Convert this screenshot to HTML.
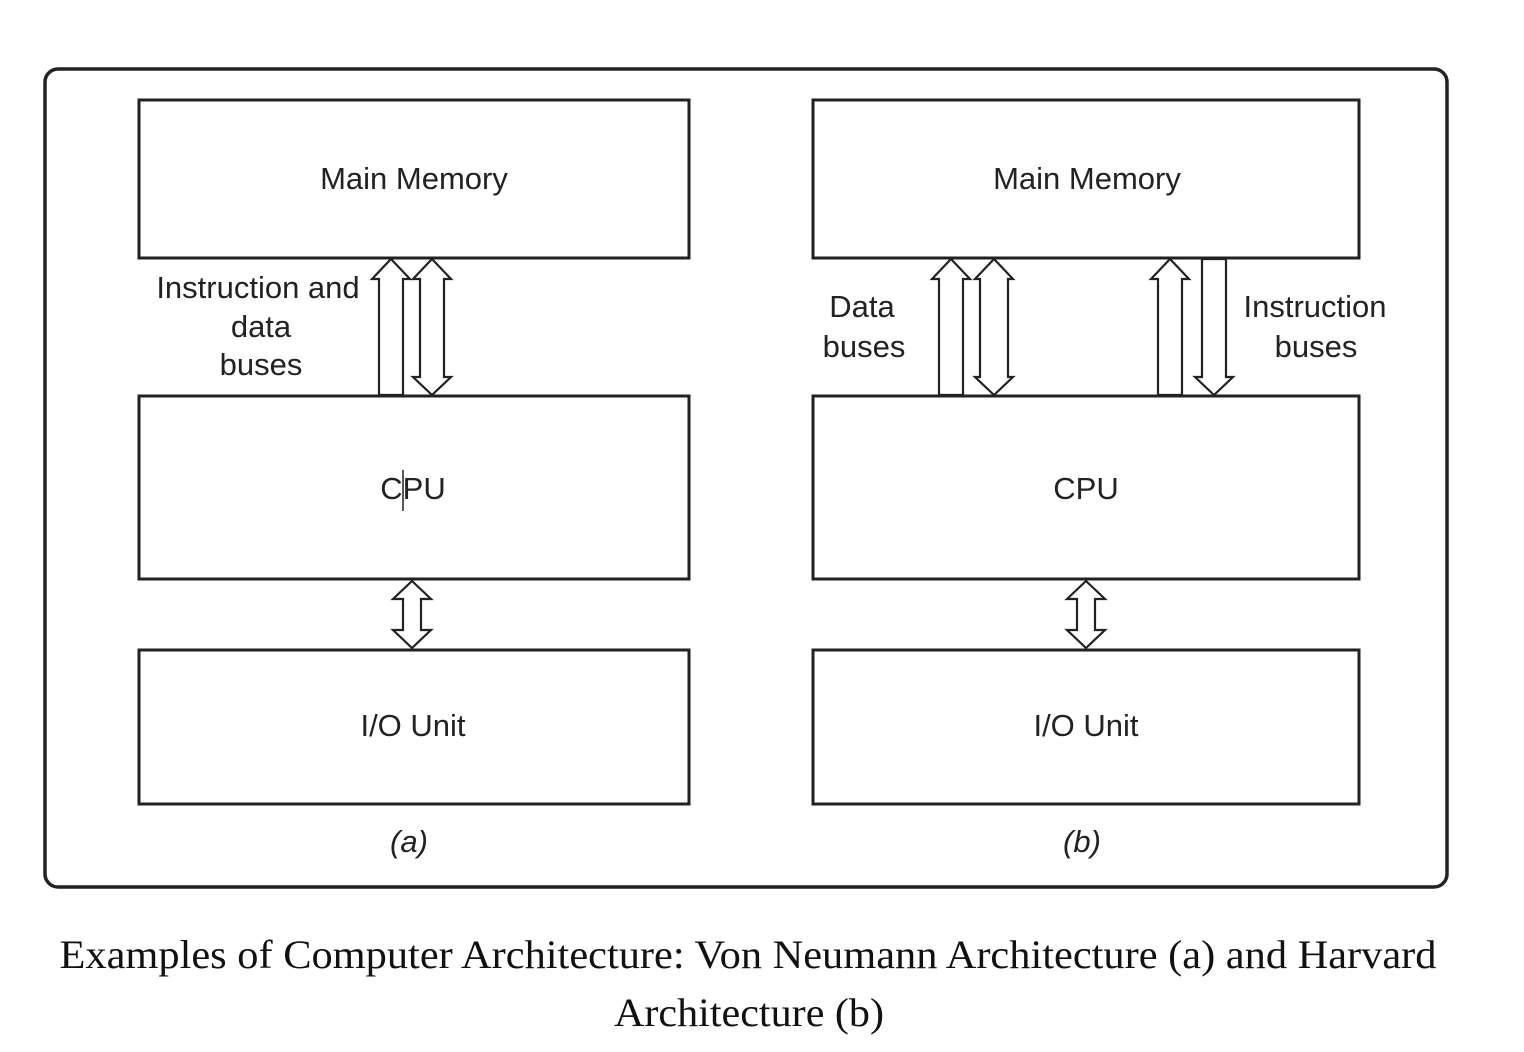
<!DOCTYPE html>
<html><head><meta charset="utf-8"><style>
html,body{margin:0;padding:0;background:#fff;}
svg{display:block;}
.t{font-family:"Liberation Sans",sans-serif;font-size:31px;fill:#222;text-anchor:middle;}
.c{font-family:"Liberation Serif",serif;font-size:40px;fill:#111;text-anchor:middle;}
</style></head><body>
<svg width="1524" height="1052" viewBox="0 0 1524 1052" xmlns="http://www.w3.org/2000/svg">
<rect x="45" y="69" width="1402" height="818" rx="13" fill="none" stroke="#222" stroke-width="3.5"/>
<g fill="#fff" stroke="#222" stroke-width="3">
<rect x="139" y="100" width="550" height="158"/>
<rect x="139" y="396" width="550" height="183"/>
<rect x="139" y="650" width="550" height="154"/>
<rect x="813" y="100" width="546" height="158"/>
<rect x="813" y="396" width="546" height="183"/>
<rect x="813" y="650" width="546" height="154"/>
</g>
<g fill="#fff" stroke="#222" stroke-width="2.2" stroke-linejoin="miter">
<polygon points="391,259 410,279 403,279 403,395 379,395 379,279 372,279"/>
<polygon points="432,259 451,279 444,279 444,377 451,377 432,395 413,377 420,377 420,279 413,279"/>
<polygon points="951,259 970,279 963,279 963,395 939,395 939,279 932,279"/>
<polygon points="994,259 1013,279 1008,279 1008,377 1013,377 994,395 975,377 980,377 980,279 975,279"/>
<polygon points="1170,259 1189,279 1182,279 1182,395 1158,395 1158,279 1151,279"/>
<polygon points="1202,259 1226,259 1226,377 1233,377 1214,395 1195,377 1202,377"/>
<polygon points="412,581 431,599 421,599 421,630 431,630 412,648 393,630 403,630 403,599 393,599"/>
<polygon points="1086,581 1105,599 1095,599 1095,630 1105,630 1086,648 1067,630 1077,630 1077,599 1067,599"/>
</g>
<text class="t" x="414" y="189">Main Memory</text>
<text class="t" x="413" y="499">CPU</text>
<line x1="403" y1="470" x2="403" y2="511" stroke="#222" stroke-width="1.5"/>
<text class="t" x="413" y="736">I/O Unit</text>
<text class="t" x="258" y="298">Instruction and</text>
<text class="t" x="261" y="337">data</text>
<text class="t" x="261" y="375">buses</text>
<text class="t" x="1087" y="189">Main Memory</text>
<text class="t" x="1086" y="499">CPU</text>
<text class="t" x="1086" y="736">I/O Unit</text>
<text class="t" x="862" y="317">Data</text>
<text class="t" x="864" y="357">buses</text>
<text class="t" x="1315" y="317">Instruction</text>
<text class="t" x="1316" y="357">buses</text>
<text class="t" x="409" y="852" font-style="italic">(a)</text>
<text class="t" x="1082" y="852" font-style="italic">(b)</text>
<text class="c" x="748" y="968" textLength="1377" lengthAdjust="spacingAndGlyphs">Examples of Computer Architecture: Von Neumann Architecture (a) and Harvard</text>
<text class="c" x="749" y="1026" textLength="270" lengthAdjust="spacingAndGlyphs">Architecture (b)</text>
</svg>
</body></html>
